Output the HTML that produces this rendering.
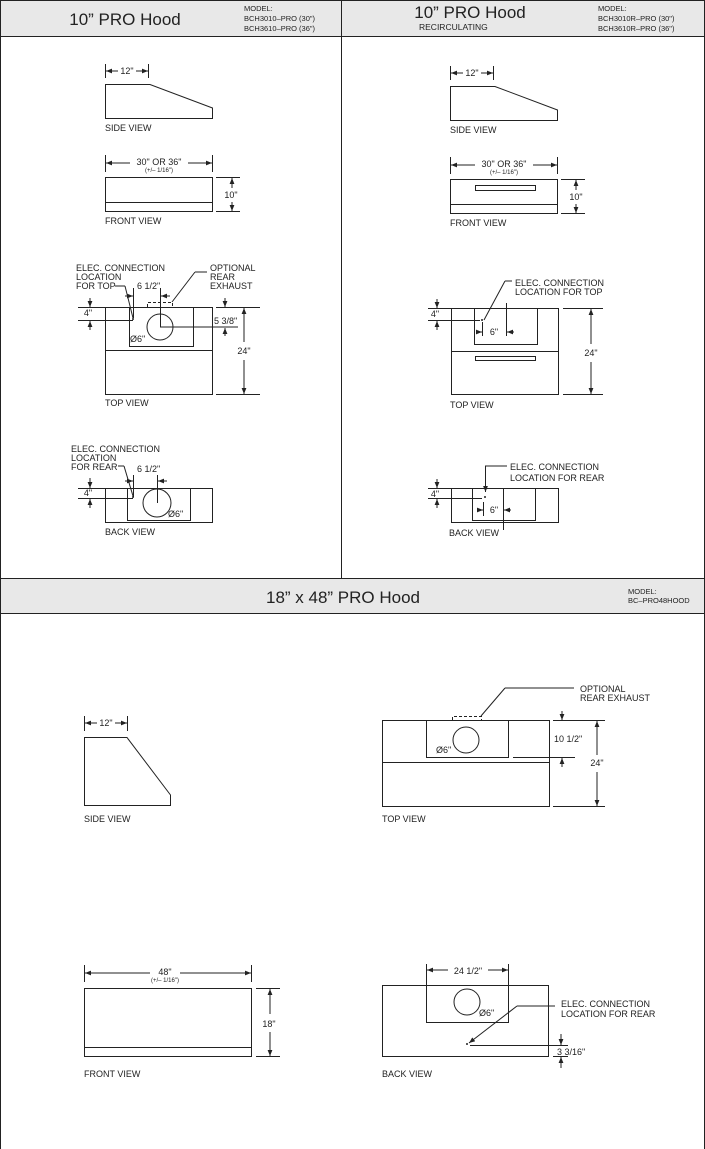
<!DOCTYPE html>
<html><head><meta charset="utf-8"><style>
html,body{margin:0;padding:0;background:#fff}
svg{display:block}
text{font-family:"Liberation Sans",sans-serif;fill:#222}
.s{font-size:9px}
.t{font-size:7.5px}
</style></head><body>
<svg width="705" height="1149" viewBox="0 0 705 1149" xmlns="http://www.w3.org/2000/svg">
<defs>
<marker id="a" viewBox="0 0 10 10" refX="10" refY="5" markerWidth="6" markerHeight="6" orient="auto-start-reverse"><path d="M0,1 L10,5 L0,9 z" fill="#222"/></marker>
</defs>
<g stroke="#222" stroke-width="1" fill="none">
<!-- frame -->
<rect x="0" y="0" width="705" height="36" fill="#e8e8e8" stroke="none"/>
<rect x="0" y="578" width="705" height="35" fill="#e8e8e8" stroke="none"/>
<line x1="0.5" y1="0" x2="0.5" y2="1149"/>
<line x1="704.5" y1="0" x2="704.5" y2="1149"/>
<line x1="0" y1="0.5" x2="705" y2="0.5"/>
<line x1="0" y1="36.5" x2="705" y2="36.5"/>
<line x1="341.5" y1="0" x2="341.5" y2="578"/>
<line x1="0" y1="578.5" x2="705" y2="578.5"/>
<line x1="0" y1="613.5" x2="705" y2="613.5"/>

<!-- TL side -->
<path d="M105.5,84.5 H150 L212.5,108 V118.5 H105.5 Z"/>
<line x1="105.5" y1="64" x2="105.5" y2="78"/><line x1="148.5" y1="64" x2="148.5" y2="78"/>
<line x1="106" y1="71" x2="118" y2="71" marker-start="url(#a)"/><line x1="136" y1="71" x2="148" y2="71" marker-end="url(#a)"/>
<!-- TL front -->
<rect x="105.5" y="177.5" width="107" height="34"/><line x1="105" y1="202.5" x2="212" y2="202.5"/>
<line x1="105.5" y1="155" x2="105.5" y2="172"/><line x1="212.5" y1="155" x2="212.5" y2="172"/>
<line x1="106" y1="163" x2="130" y2="163" marker-start="url(#a)"/><line x1="188" y1="163" x2="212" y2="163" marker-end="url(#a)"/>
<line x1="216" y1="177.5" x2="240" y2="177.5"/><line x1="216" y1="211.5" x2="240" y2="211.5"/>
<line x1="232" y1="178" x2="232" y2="188" marker-start="url(#a)"/><line x1="232" y1="202" x2="232" y2="211" marker-end="url(#a)"/>
<!-- TL top -->
<rect x="105.5" y="307.5" width="107" height="87"/><line x1="105" y1="350.5" x2="212" y2="350.5"/>
<rect x="129.5" y="307.5" width="64" height="39"/>
<circle cx="160" cy="327" r="13"/>
<path d="M147.5,307 V302.5 H172.5 V307" stroke-dasharray="3,2"/>
<line x1="172" y1="302" x2="195" y2="272"/><line x1="195" y1="272" x2="207" y2="272"/>
<line x1="125" y1="286" x2="133" y2="318"/><line x1="115" y1="286" x2="125" y2="286"/>
<line x1="160" y1="327" x2="238" y2="327"/>
<line x1="216" y1="307.5" x2="260" y2="307.5"/><line x1="216" y1="394.5" x2="260" y2="394.5"/>
<line x1="244" y1="308" x2="244" y2="342" marker-start="url(#a)"/><line x1="244" y1="360" x2="244" y2="394" marker-end="url(#a)"/>
<line x1="225" y1="298" x2="225" y2="307" marker-end="url(#a)"/><line x1="225" y1="336" x2="225" y2="328" marker-end="url(#a)"/>
<line x1="78" y1="320.5" x2="133" y2="320.5"/><line x1="78" y1="307.5" x2="105" y2="307.5"/>
<line x1="90" y1="298" x2="90" y2="307" marker-end="url(#a)"/><line x1="90" y1="330" x2="90" y2="321" marker-end="url(#a)"/>
<line x1="133.5" y1="288" x2="133.5" y2="318"/><line x1="160.5" y1="288" x2="160.5" y2="327"/>
<line x1="125" y1="296" x2="133" y2="296" marker-end="url(#a)"/><line x1="170" y1="296" x2="161" y2="296" marker-end="url(#a)"/>
<!-- TL back -->
<rect x="105.5" y="488.5" width="107" height="34"/>
<rect x="127.5" y="488.5" width="63" height="32"/>
<circle cx="157" cy="503" r="14"/>
<line x1="78" y1="498.5" x2="133" y2="498.5"/><line x1="78" y1="488.5" x2="105" y2="488.5"/>
<line x1="90" y1="478" x2="90" y2="488" marker-end="url(#a)"/><line x1="90" y1="508" x2="90" y2="499" marker-end="url(#a)"/>
<line x1="133.5" y1="475" x2="133.5" y2="497"/><line x1="157.5" y1="475" x2="157.5" y2="503"/>
<line x1="125" y1="481" x2="133" y2="481" marker-end="url(#a)"/><line x1="167" y1="481" x2="158" y2="481" marker-end="url(#a)"/>
<line x1="118" y1="466" x2="124" y2="466"/><line x1="124" y1="466" x2="133" y2="496"/>

<!-- TR side -->
<path d="M450.5,86.5 H495 L557.5,110 V120.5 H450.5 Z"/>
<line x1="450.5" y1="66" x2="450.5" y2="80"/><line x1="493.5" y1="66" x2="493.5" y2="80"/>
<line x1="451" y1="73" x2="463" y2="73" marker-start="url(#a)"/><line x1="481" y1="73" x2="493" y2="73" marker-end="url(#a)"/>
<!-- TR front -->
<rect x="450.5" y="179.5" width="107" height="34"/><line x1="450" y1="204.5" x2="557" y2="204.5"/>
<rect x="475.5" y="185.5" width="60" height="5"/>
<line x1="450.5" y1="157" x2="450.5" y2="174"/><line x1="557.5" y1="157" x2="557.5" y2="174"/>
<line x1="451" y1="165" x2="475" y2="165" marker-start="url(#a)"/><line x1="533" y1="165" x2="557" y2="165" marker-end="url(#a)"/>
<line x1="561" y1="179.5" x2="585" y2="179.5"/><line x1="561" y1="213.5" x2="585" y2="213.5"/>
<line x1="576" y1="180" x2="576" y2="190" marker-start="url(#a)"/><line x1="576" y1="204" x2="576" y2="213" marker-end="url(#a)"/>
<!-- TR top -->
<rect x="451.5" y="308.5" width="107" height="86"/><line x1="451" y1="351.5" x2="558" y2="351.5"/>
<rect x="474.5" y="308.5" width="63" height="36"/>
<rect x="475.5" y="356.5" width="60" height="4"/>
<line x1="484" y1="320" x2="505" y2="281"/><line x1="505" y1="281" x2="512" y2="281"/>
<line x1="428" y1="320.5" x2="480" y2="320.5"/><line x1="428" y1="308.5" x2="451" y2="308.5"/>
<line x1="437" y1="299" x2="437" y2="308" marker-end="url(#a)"/><line x1="437" y1="330" x2="437" y2="321" marker-end="url(#a)"/>
<line x1="482.5" y1="322" x2="482.5" y2="336"/><line x1="506.5" y1="303" x2="506.5" y2="336"/>
<line x1="476" y1="332" x2="482" y2="332" marker-end="url(#a)"/><line x1="514" y1="332" x2="507" y2="332" marker-end="url(#a)"/>
<line x1="563" y1="308.5" x2="603" y2="308.5"/><line x1="563" y1="394.5" x2="603" y2="394.5"/>
<line x1="591" y1="309" x2="591" y2="344" marker-start="url(#a)"/><line x1="591" y1="362" x2="591" y2="394" marker-end="url(#a)"/>
<!-- TR back -->
<rect x="451.5" y="488.5" width="107" height="34"/>
<rect x="472.5" y="488.5" width="63" height="32"/>
<line x1="485.5" y1="466" x2="485.5" y2="492" marker-end="url(#a)"/><line x1="485" y1="466" x2="507" y2="466"/>
<line x1="428" y1="498.5" x2="482" y2="498.5"/><line x1="428" y1="488.5" x2="451" y2="488.5"/>
<line x1="437" y1="479" x2="437" y2="488" marker-end="url(#a)"/><line x1="437" y1="508" x2="437" y2="499" marker-end="url(#a)"/>
<line x1="483.5" y1="502" x2="483.5" y2="516"/><line x1="503.5" y1="488" x2="503.5" y2="530"/>
<line x1="477" y1="510" x2="483" y2="510" marker-end="url(#a)"/><line x1="511" y1="510" x2="504" y2="510" marker-end="url(#a)"/>

<!-- Bottom side -->
<path d="M84.5,737.5 H127 L170.5,795 V805.5 H84.5 Z"/>
<line x1="84.5" y1="716" x2="84.5" y2="731"/><line x1="127.5" y1="716" x2="127.5" y2="731"/>
<line x1="85" y1="723" x2="97" y2="723" marker-start="url(#a)"/><line x1="115" y1="723" x2="127" y2="723" marker-end="url(#a)"/>
<!-- Bottom top view -->
<rect x="382.5" y="720.5" width="167" height="86"/><line x1="382" y1="762.5" x2="549" y2="762.5"/>
<rect x="426.5" y="720.5" width="82" height="37"/>
<circle cx="466" cy="740" r="13"/>
<path d="M452.5,720 V716.5 H481.5 V720" stroke-dasharray="3,2"/>
<line x1="481" y1="716" x2="505" y2="688"/><line x1="505" y1="688" x2="574" y2="688"/>
<line x1="513" y1="757.5" x2="575" y2="757.5"/>
<line x1="553" y1="720.5" x2="605" y2="720.5"/><line x1="553" y1="806.5" x2="605" y2="806.5"/>
<line x1="562" y1="711" x2="562" y2="720" marker-end="url(#a)"/><line x1="562" y1="767" x2="562" y2="758" marker-end="url(#a)"/>
<line x1="597" y1="721" x2="597" y2="755" marker-start="url(#a)"/><line x1="597" y1="772" x2="597" y2="806" marker-end="url(#a)"/>
<!-- Bottom front -->
<rect x="84.5" y="988.5" width="167" height="68"/><line x1="84" y1="1047.5" x2="251" y2="1047.5"/>
<line x1="84.5" y1="965" x2="84.5" y2="982"/><line x1="251.5" y1="965" x2="251.5" y2="982"/>
<line x1="85" y1="973" x2="150" y2="973" marker-start="url(#a)"/><line x1="180" y1="973" x2="251" y2="973" marker-end="url(#a)"/>
<line x1="256" y1="988.5" x2="280" y2="988.5"/><line x1="256" y1="1056.5" x2="280" y2="1056.5"/>
<line x1="270" y1="989" x2="270" y2="1014" marker-start="url(#a)"/><line x1="270" y1="1032" x2="270" y2="1056" marker-end="url(#a)"/>
<!-- Bottom back -->
<rect x="382.5" y="985.5" width="166" height="71"/>
<rect x="426.5" y="985.5" width="82" height="37"/>
<circle cx="467" cy="1002" r="13"/>
<line x1="426.5" y1="964" x2="426.5" y2="985"/><line x1="508.5" y1="964" x2="508.5" y2="985"/>
<line x1="427" y1="970" x2="448" y2="970" marker-start="url(#a)"/><line x1="488" y1="970" x2="508" y2="970" marker-end="url(#a)"/>
<line x1="517" y1="1006" x2="469" y2="1043" marker-end="url(#a)"/><line x1="517" y1="1006" x2="555" y2="1006"/>
<line x1="470" y1="1045.5" x2="568" y2="1045.5"/><line x1="553" y1="1056.5" x2="568" y2="1056.5"/>
<line x1="561" y1="1034" x2="561" y2="1045" marker-end="url(#a)"/><line x1="561" y1="1068" x2="561" y2="1057" marker-end="url(#a)"/>
</g>
<g fill="#222">
<circle cx="133" cy="319" r="1"/><circle cx="133" cy="497" r="1"/><circle cx="482" cy="320" r="1"/><circle cx="485" cy="497" r="1"/><circle cx="467" cy="1044" r="1"/>
</g>

<!-- headers -->
<text x="125" y="25" text-anchor="middle" style="font-size:17px">10” PRO Hood</text>
<text x="244" y="11" class="t">MODEL:</text>
<text x="244" y="21" class="t">BCH3010–PRO (30")</text>
<text x="244" y="31" class="t">BCH3610–PRO (36")</text>
<text x="470" y="18" text-anchor="middle" style="font-size:17px">10” PRO Hood</text>
<text x="419" y="30" class="t" style="font-size:8.5px">RECIRCULATING</text>
<text x="598" y="11" class="t">MODEL:</text>
<text x="598" y="21" class="t">BCH3010R–PRO (30")</text>
<text x="598" y="31" class="t">BCH3610R–PRO (36")</text>
<text x="343" y="603" text-anchor="middle" style="font-size:17px">18” x 48” PRO Hood</text>
<text x="628" y="594" class="t">MODEL:</text>
<text x="628" y="603" class="t">BC–PRO48HOOD</text>

<!-- TL labels -->
<text x="127" y="74" text-anchor="middle" class="s">12"</text>
<text x="105" y="131" class="s">SIDE VIEW</text>
<text x="159" y="165" text-anchor="middle" class="s">30" OR 36"</text>
<text x="159" y="172" text-anchor="middle" style="font-size:6px">(+/– 1/16")</text>
<text x="231" y="198" text-anchor="middle" class="s">10"</text>
<text x="105" y="224" class="s">FRONT VIEW</text>
<text x="76" y="271" class="s">ELEC. CONNECTION</text>
<text x="76" y="280" class="s">LOCATION</text>
<text x="76" y="289" class="s">FOR TOP</text>
<text x="137" y="289" class="s">6 1/2"</text>
<text x="210" y="271" class="s">OPTIONAL</text>
<text x="210" y="280" class="s">REAR</text>
<text x="210" y="289" class="s">EXHAUST</text>
<text x="214" y="324" class="s">5 3/8"</text>
<text x="88" y="316" text-anchor="middle" class="s">4"</text>
<text x="130" y="342" class="s">Ø6"</text>
<text x="244" y="354" text-anchor="middle" class="s">24"</text>
<text x="105" y="406" class="s">TOP VIEW</text>
<text x="71" y="452" class="s">ELEC. CONNECTION</text>
<text x="71" y="461" class="s">LOCATION</text>
<text x="71" y="470" class="s">FOR REAR</text>
<text x="137" y="472" class="s">6 1/2"</text>
<text x="88" y="496" text-anchor="middle" class="s">4"</text>
<text x="168" y="517" class="s">Ø6"</text>
<text x="105" y="535" class="s">BACK VIEW</text>

<!-- TR labels -->
<text x="472" y="76" text-anchor="middle" class="s">12"</text>
<text x="450" y="133" class="s">SIDE VIEW</text>
<text x="504" y="167" text-anchor="middle" class="s">30" OR 36"</text>
<text x="504" y="174" text-anchor="middle" style="font-size:6px">(+/– 1/16")</text>
<text x="576" y="200" text-anchor="middle" class="s">10"</text>
<text x="450" y="226" class="s">FRONT VIEW</text>
<text x="515" y="286" class="s">ELEC. CONNECTION</text>
<text x="515" y="295" class="s">LOCATION FOR TOP</text>
<text x="435" y="317" text-anchor="middle" class="s">4"</text>
<text x="494" y="335" text-anchor="middle" class="s">6"</text>
<text x="591" y="356" text-anchor="middle" class="s">24"</text>
<text x="450" y="408" class="s">TOP VIEW</text>
<text x="510" y="470" class="s">ELEC. CONNECTION</text>
<text x="510" y="481" class="s">LOCATION FOR REAR</text>
<text x="435" y="497" text-anchor="middle" class="s">4"</text>
<text x="494" y="513" text-anchor="middle" class="s">6"</text>
<text x="449" y="536" class="s">BACK VIEW</text>

<!-- Bottom labels -->
<text x="106" y="726" text-anchor="middle" class="s">12"</text>
<text x="84" y="822" class="s">SIDE VIEW</text>
<text x="580" y="692" class="s">OPTIONAL</text>
<text x="580" y="701" class="s">REAR EXHAUST</text>
<text x="436" y="753" class="s">Ø6"</text>
<text x="554" y="742" class="s">10 1/2"</text>
<text x="597" y="766" text-anchor="middle" class="s">24"</text>
<text x="382" y="822" class="s">TOP VIEW</text>
<text x="165" y="975" text-anchor="middle" class="s">48"</text>
<text x="165" y="982" text-anchor="middle" style="font-size:6px">(+/– 1/16")</text>
<text x="269" y="1027" text-anchor="middle" class="s">18"</text>
<text x="84" y="1077" class="s">FRONT VIEW</text>
<text x="468" y="974" text-anchor="middle" class="s">24 1/2"</text>
<text x="479" y="1016" class="s">Ø6"</text>
<text x="561" y="1007" class="s">ELEC. CONNECTION</text>
<text x="561" y="1017" class="s">LOCATION FOR REAR</text>
<text x="557" y="1055" class="s">3 3/16"</text>
<text x="382" y="1077" class="s">BACK VIEW</text>
</svg>
</body></html>
